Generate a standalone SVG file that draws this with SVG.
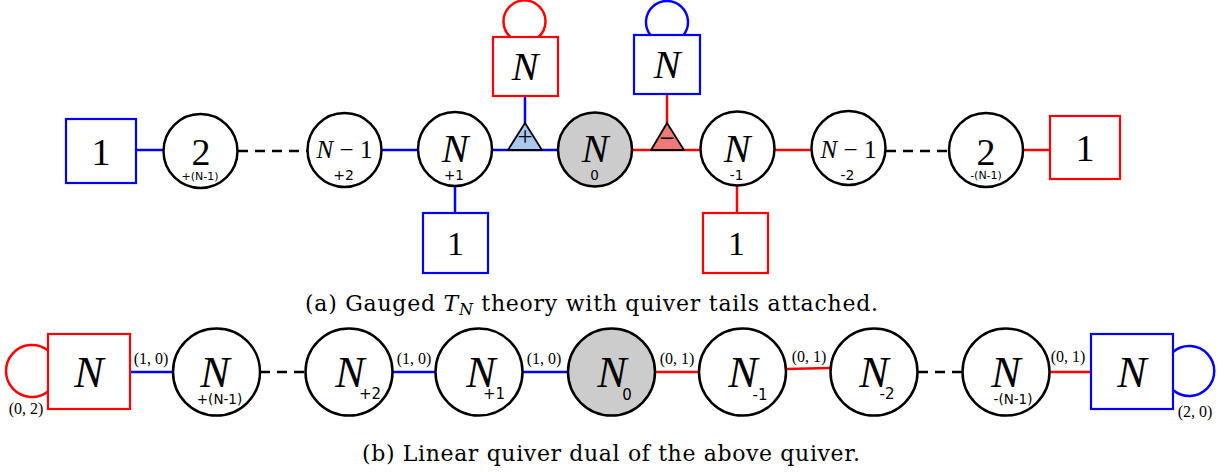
<svg xmlns="http://www.w3.org/2000/svg" width="1228" height="473" viewBox="0 0 1228 473">
<style>
.bg{fill:#ffffff}
.c{fill:#ffffff;stroke:#000;stroke-width:2.5}
.g{fill:#cccccc;stroke:#000;stroke-width:2.5}
.bb{fill:#ffffff;stroke:#0000ff;stroke-width:2.2}
.rb{fill:#ffffff;stroke:#ff0000;stroke-width:2.2}
.bl{stroke:#0000ff;stroke-width:2.5;fill:none}
.rl{stroke:#ff0000;stroke-width:2.5;fill:none}
.dl{stroke:#000;stroke-width:2.5;stroke-dasharray:10 7;fill:none}
.m{font-family:"Liberation Serif","DejaVu Serif",serif;fill:#000;text-anchor:middle}
.i{font-style:italic}
.s{font-family:"DejaVu Sans","Liberation Sans",sans-serif;font-style:normal}
.cap{font-family:"DejaVu Serif","Liberation Serif",serif;font-size:22px;fill:#000}
.lab{font-family:"Liberation Serif","DejaVu Serif",serif;font-size:16px;fill:#000;text-anchor:middle}
</style>
<rect class="bg" x="0" y="0" width="1228" height="473"/>

<g id="connectors">
  <line class="bl" x1="136" y1="150" x2="163" y2="150"/>
  <line class="dl" x1="238" y1="151" x2="307" y2="151"/>
  <line class="bl" x1="382" y1="150" x2="418" y2="150"/>
  <line class="bl" x1="492" y1="150" x2="558" y2="150"/>
  <line class="rl" x1="632" y1="150" x2="700" y2="150"/>
  <line class="rl" x1="775" y1="150" x2="811" y2="150"/>
  <line class="dl" x1="886" y1="151" x2="949" y2="151"/>
  <line class="rl" x1="1023" y1="150" x2="1050" y2="150"/>
  <line class="bl" x1="525" y1="96" x2="525" y2="123"/>
  <line class="rl" x1="667" y1="94" x2="667" y2="123"/>
  <line class="bl" x1="455" y1="187" x2="455" y2="213"/>
  <line class="rl" x1="737" y1="185" x2="737" y2="213"/>
  <path class="rl" d="M 510.5 37 A 21 21 0 1 1 538.5 37"/>
  <path class="bl" d="M 650.5 35 A 21 21 0 1 1 683.5 35"/>
  <line class="bl" x1="130" y1="372" x2="173" y2="372"/>
  <line class="dl" x1="260" y1="372" x2="305" y2="372"/>
  <line class="bl" x1="393" y1="372" x2="435" y2="372"/>
  <line class="bl" x1="523" y1="372" x2="568" y2="372"/>
  <line class="rl" x1="655" y1="372" x2="699" y2="372"/>
  <line class="rl" x1="786" y1="369" x2="830" y2="368"/>
  <line class="dl" x1="918" y1="372" x2="962" y2="372"/>
  <line class="rl" x1="1050" y1="372" x2="1091" y2="372"/>
  <path class="rl" d="M 48 350.5 A 26 26 0 1 0 48 391.5"/>
  <path class="bl" d="M 1173 352 A 25 25 0 1 1 1173 390"/>
  <text class="lab" x="151" y="364">(1, 0)</text>
  <text class="lab" x="414" y="364">(1, 0)</text>
  <text class="lab" x="544" y="364">(1, 0)</text>
  <text class="lab" x="677" y="364">(0, 1)</text>
  <text class="lab" x="809" y="362">(0, 1)</text>
  <text class="lab" x="1068" y="362">(0, 1)</text>
  <text class="lab" x="26" y="414">(0, 2)</text>
  <text class="lab" x="1195" y="417">(2, 0)</text>
</g>

<g id="t_box1_left"><rect class="bb" x="66" y="119" width="70" height="64"/><text class="m" x="101" y="165" font-size="38">1</text></g>
<g id="t_c2_plus"><circle class="c" cx="200.5" cy="151" r="37"/><text class="m"><tspan x="201" y="165" font-size="38">2</tspan><tspan class="s" x="200" y="180" font-size="11">+(N-1)</tspan></text></g>
<g id="t_cNm1_plus"><circle class="c" cx="344.5" cy="150" r="37"/><text class="m"><tspan x="344.5" y="158" font-size="25"><tspan class="i">N</tspan> − 1</tspan><tspan class="s" x="343.5" y="180" font-size="14">+2</tspan></text></g>
<g id="t_cN_plus1"><circle class="c" cx="455" cy="149" r="37"/><text class="m"><tspan class="i" x="455" y="162" font-size="40">N</tspan><tspan class="s" x="454" y="180" font-size="13.5">+1</tspan></text></g>
<g id="t_box1_bl"><rect class="bb" x="423" y="213" width="65" height="60"/><text class="m" x="455.5" y="255" font-size="34">1</text></g>
<g id="t_tri_plus"><polygon points="525,123 508,150 542,150" fill="#a8c8f0" stroke="#000" stroke-width="1.8"/><text class="m" x="525" y="146" font-size="27">+</text></g>
<g id="t_boxN_red"><rect class="rb" x="493" y="37" width="65" height="59"/><text class="m i" x="525" y="80" font-size="40">N</text></g>
<g id="t_c0"><circle class="g" cx="595" cy="149.5" r="37"/><text class="m"><tspan class="i" x="595" y="162" font-size="40">N</tspan><tspan class="s" x="594.5" y="180" font-size="13.5">0</tspan></text></g>
<g id="t_tri_minus"><polygon points="667,123 651,150 684,150" fill="#f07878" stroke="#000" stroke-width="1.8"/><text class="m" x="667" y="147" font-size="27">−</text></g>
<g id="t_boxN_blue"><rect class="bb" x="634" y="35" width="66" height="59"/><text class="m i" x="667" y="78" font-size="40">N</text></g>
<g id="t_cN_minus1"><circle class="c" cx="737.5" cy="148.5" r="37"/><text class="m"><tspan class="i" x="737" y="162" font-size="40">N</tspan><tspan class="s" x="736.5" y="180" font-size="13.5">-1</tspan></text></g>
<g id="t_box1_br"><rect class="rb" x="703" y="213" width="65" height="60"/><text class="m" x="736.5" y="255" font-size="34">1</text></g>
<g id="t_cNm1_minus"><circle class="c" cx="848.5" cy="148" r="37"/><text class="m"><tspan x="848.5" y="158" font-size="25"><tspan class="i">N</tspan> − 1</tspan><tspan class="s" x="847.5" y="180" font-size="14">-2</tspan></text></g>
<g id="t_c2_minus"><circle class="c" cx="986" cy="150" r="37"/><text class="m"><tspan x="986" y="165" font-size="38">2</tspan><tspan class="s" x="986" y="179" font-size="11">-(N-1)</tspan></text></g>
<g id="t_box1_right"><rect class="rb" x="1050" y="116" width="70" height="63"/><text class="m" x="1085" y="161" font-size="38">1</text></g>

<text class="cap" x="305" y="311" textLength="573" lengthAdjust="spacing">(a) Gauged <tspan font-style="italic">T</tspan><tspan font-style="italic" font-size="16" dy="4">N</tspan><tspan dy="-4"> theory with quiver tails attached.</tspan></text>

<g id="b_boxN_red"><rect class="rb" x="48" y="334" width="82" height="75"/><text class="m i" x="89" y="387" font-size="44">N</text></g>
<g id="b_c_plusNm1"><circle class="c" cx="216.5" cy="372" r="43.5"/><text class="m"><tspan class="i" x="215" y="387" font-size="44">N</tspan><tspan class="s" x="219.5" y="404" font-size="13.5">+(N-1)</tspan></text></g>
<g id="b_c_plus2"><circle class="c" cx="349" cy="372" r="43.5"/><text class="m"><tspan class="i" x="350" y="387" font-size="44">N</tspan><tspan class="s" x="370" y="399" font-size="15">+2</tspan></text></g>
<g id="b_c_plus1"><circle class="c" cx="479" cy="372" r="43.5"/><text class="m"><tspan class="i" x="481" y="387" font-size="44">N</tspan><tspan class="s" x="494" y="399" font-size="15">+1</tspan></text></g>
<g id="b_c0"><circle class="g" cx="611.5" cy="372" r="43.5"/><text class="m"><tspan class="i" x="612" y="387" font-size="44">N</tspan><tspan class="s" x="627" y="400" font-size="15">0</tspan></text></g>
<g id="b_c_minus1"><circle class="c" cx="742.5" cy="372" r="43.5"/><text class="m"><tspan class="i" x="743" y="387" font-size="44">N</tspan><tspan class="s" x="760" y="400" font-size="15">-1</tspan></text></g>
<g id="b_c_minus2"><circle class="c" cx="874" cy="372" r="43.5"/><text class="m"><tspan class="i" x="874" y="387" font-size="44">N</tspan><tspan class="s" x="887" y="399" font-size="15">-2</tspan></text></g>
<g id="b_c_minusNm1"><circle class="c" cx="1006" cy="372" r="43.5"/><text class="m"><tspan class="i" x="1006" y="387" font-size="44">N</tspan><tspan class="s" x="1013" y="404" font-size="13.5">-(N-1)</tspan></text></g>
<g id="b_boxN_blue"><rect class="bb" x="1091" y="334" width="82" height="75"/><text class="m i" x="1132" y="387" font-size="44">N</text></g>

<text class="cap" x="362" y="461" textLength="498" lengthAdjust="spacing">(b) Linear quiver dual of the above quiver.</text>
</svg>
